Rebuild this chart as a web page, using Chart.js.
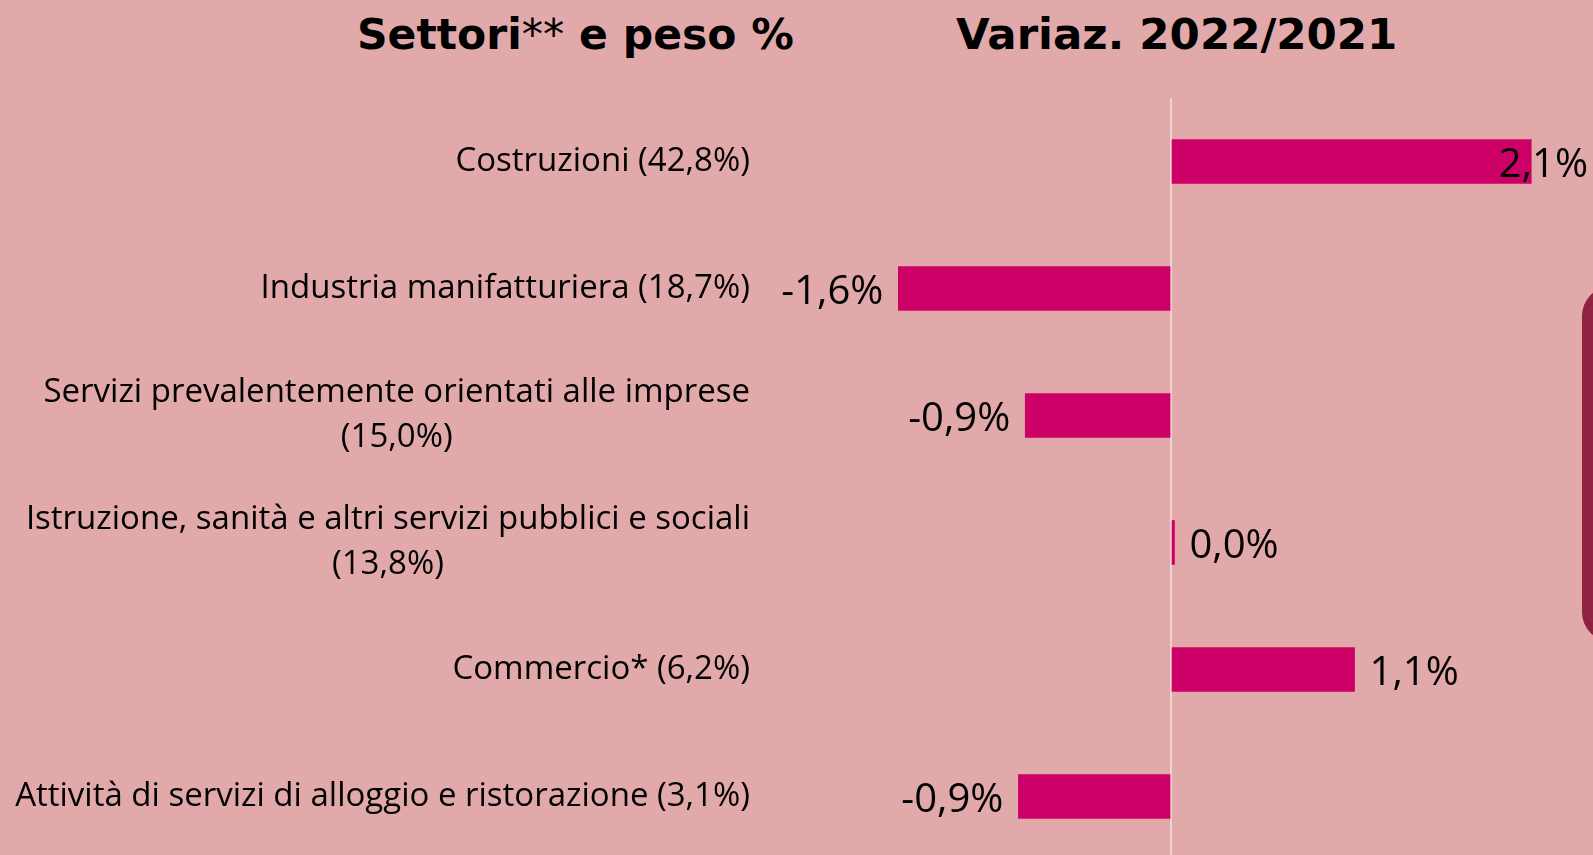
<!DOCTYPE html>
<html>
<head>
<meta charset="utf-8">
<script src="https://cdn.jsdelivr.net/npm/chart.js@4/dist/chart.umd.min.js"></script>
<style>
html,body{margin:0;padding:0;overflow:hidden;background:#e2a9aa;width:1593px;height:855px}
.title{position:absolute;font-family:"DejaVu Sans",Verdana,sans-serif;font-weight:bold;line-height:48px;color:#000;white-space:nowrap}
.title .ast{font-weight:normal}
#t1{left:357px;top:11px;font-size:42.5px}
#t2{left:956px;top:10px;font-size:43.5px}
.tab{position:absolute;left:1582px;top:286px;width:60px;height:356px;background:#8f2342;border-radius:34px}
.wrap{position:absolute;left:0;top:0;width:1593px;height:860px}
</style>
</head>
<body>
<div id="t1" class="title">Settori<span class="ast">**</span> e peso %</div>
<div id="t2" class="title">Variaz. 2022/2021</div>
<div class="tab"></div>
<div class="wrap"><canvas id="chart"></canvas></div>
<script>
// =============================
// DATA
// =============================
const sectors = [
  ["Costruzioni (42,8%)"],
  ["Industria manifatturiera (18,7%)"],
  ["Servizi prevalentemente orientati alle imprese", "(15,0%)"],
  ["Istruzione, sanità e altri servizi pubblici e sociali", "(13,8%)"],
  ["Commercio* (6,2%)"],
  ["Attività di servizi di alloggio e ristorazione (3,1%)"]
]
const changes = [2.1, -1.59, -0.85, 0.02, 1.07, -0.89]
const changeLabels = ["2,1%", "-1,6%", "-0,9%", "0,0%", "1,1%", "-0,9%"]

const barColor = "#cc0066"
const zeroColor = "#efd2d2"
const labelFont = '33px "Open Sans", sans-serif'
const valueFont = '40px "Open Sans", sans-serif'

// =============================
// category labels, right side at x=750, lines centred in block
// =============================
const sectorLabels = {
  id: "sectorLabels",
  afterDraw(chart) {
    let ctx = chart.ctx
    let y = chart.scales.y
    let right = 750
    let lineH = 45
    ctx.save()
    ctx.font = labelFont
    ctx.fillStyle = "#000"
    ctx.textBaseline = "middle"
    ctx.textAlign = "center"
    sectors.forEach((lines, i) => {
      let w = Math.max(...lines.map(l => ctx.measureText(l).width))
      let cx = right - w / 2
      let cy = y.getPixelForValue(i) - (lines.length - 1) * lineH / 2
      lines.forEach((l, k) => ctx.fillText(l, cx, cy + k * lineH))
    })
    ctx.restore()
  }
}

// =============================
// value labels next to bars
// =============================
const valueLabels = {
  id: "valueLabels",
  afterDatasetsDraw(chart) {
    let ctx = chart.ctx
    let meta = chart.getDatasetMeta(0)
    let gap = 15
    ctx.save()
    ctx.font = valueFont
    ctx.fillStyle = "#000"
    ctx.textBaseline = "middle"
    meta.data.forEach((bar, i) => {
      let txt = changeLabels[i]
      let w = ctx.measureText(txt).width
      let x
      if (changes[i] >= 0) {
        x = bar.x + gap
        if (x + w > chart.width - 5) x = chart.width - 5 - w
        ctx.textAlign = "left"
      } else {
        x = bar.x - gap
        ctx.textAlign = "right"
      }
      ctx.fillText(txt, x, bar.y + 4)
    })
    ctx.restore()
  }
}

new Chart(document.getElementById("chart"), {
  type: "bar",
  data: {
    labels: sectors.map(s => s.join(" ")),
    datasets: [{
      data: changes,
      backgroundColor: barColor,
      borderWidth: 0,
      barThickness: 44
    }]
  },
  options: {
    indexAxis: "y",
    responsive: true,
    maintainAspectRatio: false,
    animation: false,
    layout: { padding: { left: 828, top: 98, right: 0, bottom: 0 } },
    plugins: { legend: { display: false }, tooltip: { enabled: false } },
    scales: {
      x: {
        min: -2,
        max: 2.46,
        ticks: { display: false, stepSize: 0.5 },
        border: { display: false },
        grid: {
          drawTicks: false,
          lineWidth: 2,
          color: c => (c.tick && c.tick.value === 0) ? zeroColor : "transparent"
        }
      },
      y: {
        display: false
      }
    }
  },
  plugins: [sectorLabels, valueLabels]
})
</script>
</body>
</html>
